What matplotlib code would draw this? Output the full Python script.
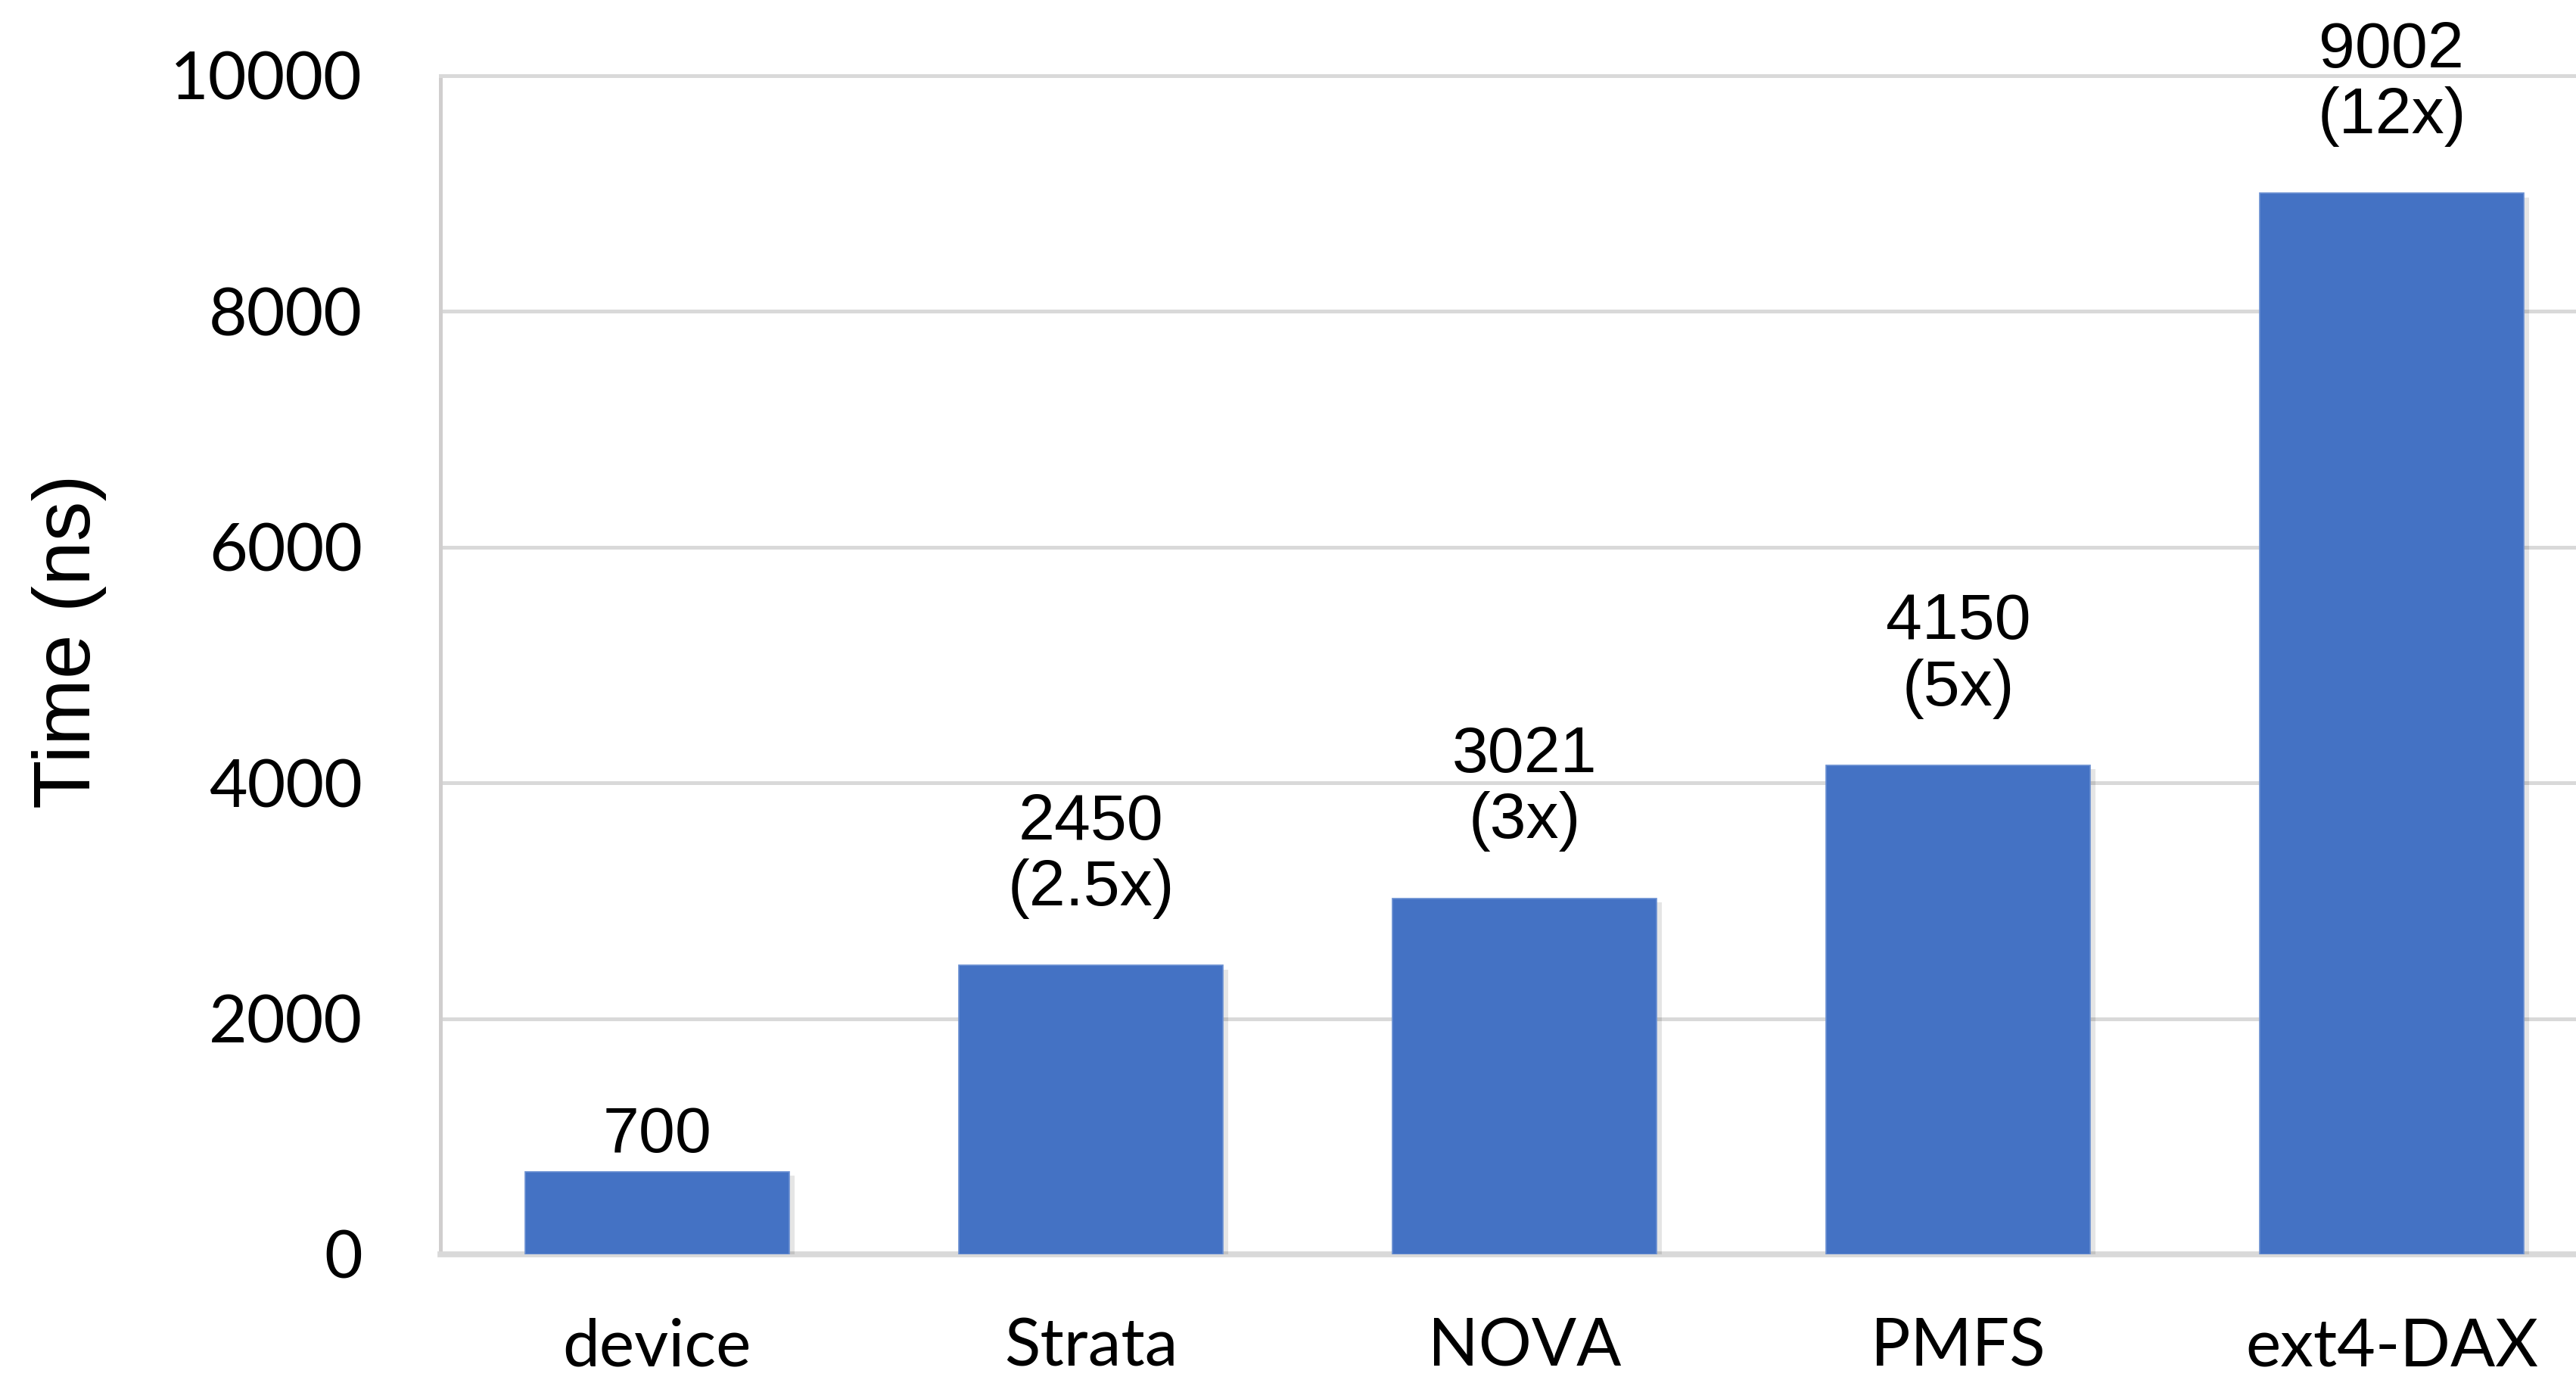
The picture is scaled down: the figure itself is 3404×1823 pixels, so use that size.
import numpy as np
import matplotlib
matplotlib.use("Agg")
import matplotlib.pyplot as plt
import matplotlib.patheffects as pe

# Per-write latency of each file system
systems = ["device", "Strata", "NOVA", "PMFS", "ext4-DAX"]
latency_ns = [700, 2450, 3021, 4150, 9002]
slowdown = ["", "2.5x", "3x", "5x", "12x"]

bar_color = "#4472C4"
grid_color = "#d9d9d9"

fig = plt.figure(figsize=(17.025, 9.115), dpi=200)
# axes runs a little past the right edge of the canvas
ax = fig.add_axes([0.1709, 0.0911, 0.8414, 0.8541])

positions = np.arange(len(systems))
bars = ax.bar(positions, latency_ns, width=0.61, color=bar_color, zorder=3,
              edgecolor="#6a8fd2", linewidth=0.6)
for b in bars:
    b.set_path_effects([
        pe.SimplePatchShadow(offset=(2.5, -2), shadow_rgbFace="#000000", alpha=0.10),
        pe.Normal(),
    ])

# value labels with the slowdown relative to the raw device
for x, v, s in zip(positions, latency_ns, slowdown):
    if s:
        txt = f"{v}\n({s})"
        pad = 22
    else:
        txt = f"{v}"
        pad = 3
    ax.annotate(txt, xy=(x, v), xytext=(0, pad), textcoords="offset points",
                ha="center", va="bottom", fontsize=31, family="Liberation Sans",
                linespacing=1.12, zorder=4)

ax.set_xlim(-0.5, len(systems) - 0.5)
ax.set_ylim(0, 10000)
ax.set_yticks(np.arange(0, 10001, 2000))
ax.set_xticks(positions)
ax.set_xticklabels(systems)

for lab in ax.get_xticklabels() + ax.get_yticklabels():
    lab.set_family("Lato")
    lab.set_fontsize(31.5)

ax.tick_params(axis="y", length=0, pad=37)
ax.tick_params(axis="x", length=0, pad=30)

ax.grid(axis="y", color=grid_color, linewidth=1.8, zorder=0)
ax.set_axisbelow(True)

ax.spines["right"].set_visible(False)
ax.spines["top"].set_color(grid_color)
ax.spines["top"].set_linewidth(1.8)
ax.spines["left"].set_color("#d0cece")
ax.spines["left"].set_linewidth(1.8)
ax.spines["bottom"].set_color(grid_color)
ax.spines["bottom"].set_linewidth(2.8)

ax.set_ylabel("Time (ns)", fontsize=38, family="Liberation Sans")
ax.yaxis.set_label_coords(-0.154, 0.52)

fig.savefig("out.png", dpi=200)
